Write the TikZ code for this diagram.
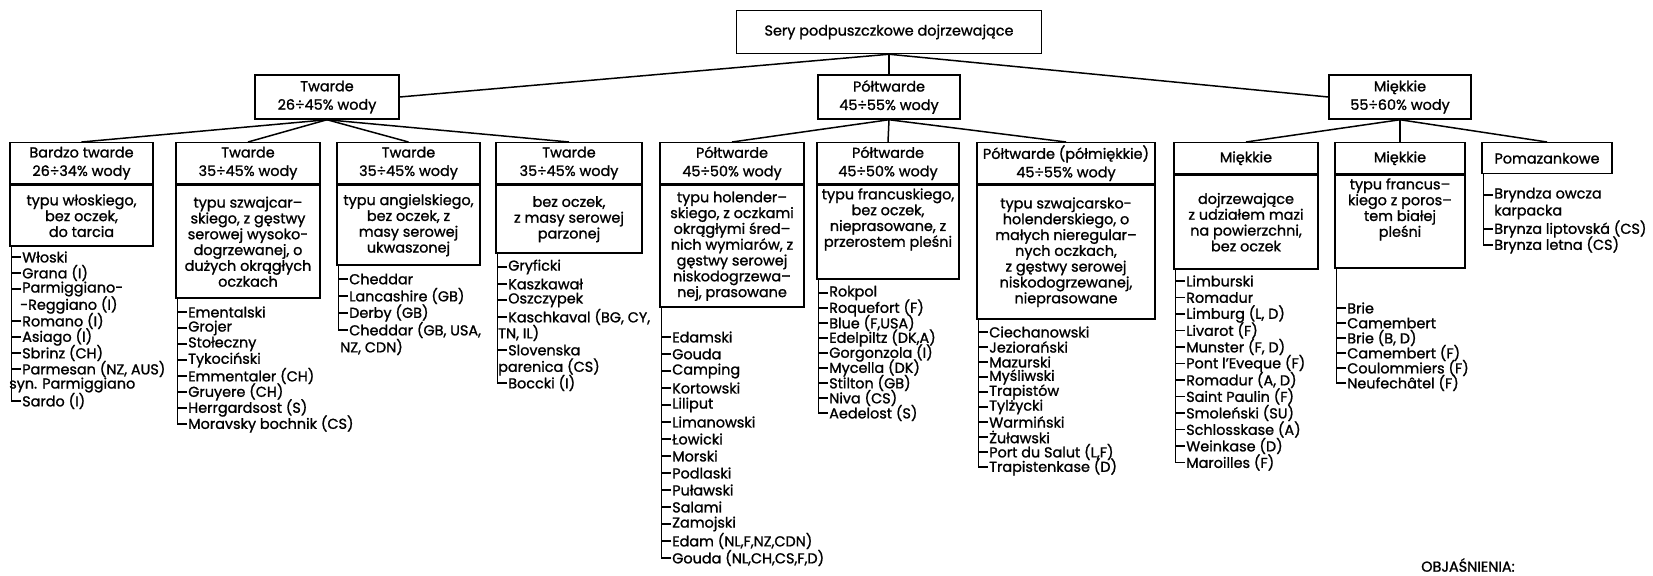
\documentclass[tikz,border=0pt]{standalone}
\usepackage{fontspec}
\setmainfont{Poppins}[FakeBold=1.2]
\usetikzlibrary{positioning, calc}

\tikzset{
  hbox/.style={draw, line width=0.85pt, align=center, inner sep=1pt, font=\fontsize{8.2}{10.5}\selectfont},
  bbox/.style={draw, line width=0.85pt, align=center, inner sep=1pt, font=\fontsize{8.2}{9}\selectfont},
  btxt/.style={align=center, inner sep=2pt, font=\fontsize{8.2}{9}\selectfont},
  conn/.style={line width=0.85pt},
  lst/.style={anchor=west, inner sep=0.5pt, font=\fontsize{8.2}{9}\selectfont},
  rail/.style={line width=0.65pt},
}

\begin{document}
\begin{tikzpicture}[x=0.02cm, y=-0.02cm]
\useasboundingbox[fill=white] (0,0) rectangle (1653,575);

% korzen i trzy grupy
\node[hbox, minimum width=6.1cm, minimum height=0.86cm] (root) at (889,32) {Sery podpuszczkowe dojrzewające};
\node[hbox, minimum width=2.88cm, minimum height=0.88cm] (tw) at (327,97) {Twarde\\26÷45\% wody};
\node[hbox, minimum width=2.84cm, minimum height=0.88cm] (pt) at (889,97) {Półtwarde\\45÷55\% wody};
\node[hbox, minimum width=2.84cm, minimum height=0.88cm] (mk) at (1400,97) {Miękkie\\55÷60\% wody};

\draw[conn] (root.south) -- (tw.east);
\draw[conn] (root.south) -- (pt.north);
\draw[conn] (root.south) -- (mk.west);

% naglowki grup szczegolowych
\node[hbox, anchor=north, minimum width=2.86cm, minimum height=0.82cm] (t1) at (81.5,142) {Bardzo twarde\\26÷34\% wody};
\node[hbox, anchor=north, minimum width=2.88cm, minimum height=0.82cm] (t2) at (248,142) {Twarde\\35÷45\% wody};
\node[hbox, anchor=north, minimum width=2.86cm, minimum height=0.82cm] (t3) at (408.5,142) {Twarde\\35÷45\% wody};
\node[hbox, anchor=north, minimum width=2.92cm, minimum height=0.82cm] (t4) at (569,142) {Twarde\\35÷45\% wody};
\node[hbox, anchor=north, minimum width=2.88cm, minimum height=0.82cm] (t5) at (732,142) {Półtwarde\\45÷50\% wody};
\node[hbox, anchor=north, minimum width=2.84cm, minimum height=0.82cm] (t6) at (888,142) {Półtwarde\\45÷50\% wody};
\node[hbox, anchor=north, minimum width=3.56cm, minimum height=0.82cm] (t7) at (1066,142) {Półtwarde (półmiękkie)\\45÷55\% wody};
\node[hbox, anchor=north, minimum width=2.88cm, minimum height=0.62cm] (t8) at (1246,142) {Miękkie};
\node[hbox, anchor=north, minimum width=2.6cm, minimum height=0.62cm] (t9) at (1400,142) {Miękkie};
\node[hbox, anchor=north, minimum width=2.6cm, minimum height=0.62cm] (t10) at (1547,142) {Pomazankowe};

\foreach \c in {t1,t2,t3,t4} \draw[conn] (tw.south) -- (\c.north);
\foreach \c in {t5,t6,t7} \draw[conn] (pt.south) -- (\c.north);
\foreach \c in {t8,t9,t10} \draw[conn] (mk.south) -- (\c.north);

% opisy
\node[bbox, below=0pt of t1, minimum width=2.86cm, minimum height=1.22cm] (b1) {typu włoskiego,\\bez oczek,\\do tarcia};
\node[bbox, below=0pt of t2, minimum width=2.88cm, minimum height=2.26cm] (b2) {typu szwajcar--\\skiego, z gęstwy\\serowej wysoko-\\dogrzewanej, o\\dużych okrągłych\\oczkach};
\node[bbox, below=0pt of t3, minimum width=2.86cm, minimum height=1.6cm] (b3) {typu angielskiego,\\bez oczek, z\\masy serowej\\ukwaszonej};
\node[bbox, below=0pt of t4, minimum width=2.92cm, minimum height=1.36cm] (b4) {bez oczek,\\z masy serowej\\parzonej};
\node[bbox, below=0pt of t5, minimum width=2.88cm, minimum height=2.44cm] (b5) {typu holender--\\skiego, z oczkami\\okrągłymi śred--\\nich wymiarów, z\\gęstwy serowej\\niskodogrzewa--\\nej, prasowane};
\node[bbox, below=0pt of t6, minimum width=2.84cm, minimum height=1.88cm] (b6) {};
\node[btxt, anchor=north] (b6t) at (b6.north) {typu francuskiego,\\bez oczek,\\nieprasowane, z\\przerostem pleśni};
\node[bbox, below=0pt of t7, minimum width=3.56cm, minimum height=2.68cm] (b7) {typu szwajcarsko-\\holenderskiego, o\\małych nieregular--\\nych oczkach,\\z gęstwy serowej\\niskodogrzewanej,\\nieprasowane};
\node[bbox, below=0pt of t8, minimum width=2.88cm, minimum height=1.88cm] (b8) {dojrzewające\\z udziałem mazi\\na powierzchni,\\bez oczek};
\node[bbox, below=0pt of t9, minimum width=2.6cm, minimum height=1.86cm] (b9) {};
\node[btxt, anchor=north] (b9t) at (b9.north) {typu francus--\\kiego z poros--\\tem białej\\pleśni};

% listy gatunkow
\coordinate (l1) at ([xshift=0.04cm]b1.south west);
\foreach \y/\t [count=\k] in {257/Włoski, 273/Grana (I), 289/Parmiggiano-, 321/Romano (I), 337/Asiago (I), 353/Sbrinz (CH), {369/Parmesan (NZ, AUS)}, 401/Sardo (I)} {
  \node[lst] (c1-\k) at (21,\y) {\t};
  \draw[rail] (c1-\k.west) -- (c1-\k.west -| l1);
}
\node[lst] (c1-r) at (19,305) {-Reggiano (I)};
\node[lst] (c1-s) at (8,385) {syn. Parmiggiano};
\draw[rail] (l1) |- (c1-8.west);

\coordinate (l2) at ([xshift=0.04cm]b2.south west);
\foreach \y/\t [count=\k] in {312/Ementalski, 328/Grojer, 344/Stołeczny, 360/Tykociński, 376/Emmentaler (CH), 392/Gruyere (CH), 408/Herrgardsost (S), 424/Moravsky bochnik (CS)} {
  \node[lst] (c2-\k) at (187,\y) {\t};
  \draw[rail] (c2-\k.west) -- (c2-\k.west -| l2);
}
\draw[rail] (l2) |- (c2-8.west);

\coordinate (l3) at ([xshift=0.04cm]b3.south west);
\foreach \y/\t [count=\k] in {279/Cheddar, 296/Lancashire (GB), 313/Derby (GB), {330/Cheddar (GB, USA,}} {
  \node[lst] (c3-\k) at (348,\y) {\t};
  \draw[rail] (c3-\k.west) -- (c3-\k.west -| l3);
}
\node[lst] (c3-n) at (339,347) {NZ, CDN)};
\draw[rail] (l3) |- (c3-4.west);

\coordinate (l4) at ([xshift=0.04cm]b4.south west);
\foreach \y/\t [count=\k] in {267/Gryficki, 284/Kaszkawał, 300/Oszczypek, {317/Kaschkaval (BG, CY,}, 350/Slovenska, 383/Boccki (I)} {
  \node[lst] (c4-\k) at (507,\y) {\t};
  \draw[rail] (c4-\k.west) -- (c4-\k.west -| l4);
}
\node[lst] (c4-a) at (497,333) {TN, IL)};
\node[lst] (c4-b) at (497,367) {parenica (CS)};
\draw[rail] (l4) |- (c4-6.west);

\coordinate (l5) at ([xshift=0.04cm]b5.south west);
\foreach \y/\t [count=\k] in {337/Edamski, 354/Gouda, 371/Camping, 388/Kortowski, 405/Liliput, 422/Limanowski, 439/Łowicki, 456/Morski, 473/Podlaski, 490/Puławski, 507/Salami, 524/Zamojski, {541/Edam (NL,F,NZ,CDN)}, {558/Gouda (NL,CH,CS,F,D)}} {
  \node[lst] (c5-\k) at (671,\y) {\t};
  \draw[rail] (c5-\k.west) -- (c5-\k.west -| l5);
}
\draw[rail] (l5) |- (c5-14.west);

\coordinate (l6) at ([xshift=0.04cm]b6.south west);
\foreach \y/\t [count=\k] in {293/Rokpol, 308/Roquefort (F), {323/Blue (F,USA)}, {338/Edelpiltz (DK,A)}, 353/Gorgonzola (I), 368/Mycella (DK), 383/Stilton (GB), 398/Niva (CS), 413/Aedelost (S)} {
  \node[lst] (c6-\k) at (828,\y) {\t};
  \draw[rail] (c6-\k.west) -- (c6-\k.west -| l6);
}
\draw[rail] (l6) |- (c6-9.west);

\coordinate (l7) at ([xshift=0.04cm]b7.south west);
\foreach \y/\t [count=\k] in {332/Ciechanowski, 347/Jeziorański, 362/Mazurski, 377/Myśliwski, 392/Trapistów, 407/Tylżycki, 422/Warmiński, 437/Żuławski, {452/Port du Salut (L,F)}, 467/Trapistenkase (D)} {
  \node[lst] (c7-\k) at (988,\y) {\t};
  \draw[rail] (c7-\k.west) -- (c7-\k.west -| l7);
}
\draw[rail] (l7) |- (c7-10.west);

\coordinate (l8) at ([xshift=0.04cm]b8.south west);
\foreach \y/\t [count=\k] in {281/Limburski, 297.5/Romadur, {314/Limburg (L, D)}, 330.5/Livarot (F), {347/Munster (F, D)}, 363.5/Pont l'Eveque (F), {380/Romadur (A, D)}, 396.5/Saint Paulin (F), 413/Smoleński (SU), 429.5/Schlosskase (A), 446/Weinkase (D), 462.5/Maroilles (F)} {
  \node[lst] (c8-\k) at (1185,\y) {\t};
  \draw[rail] (c8-\k.west) -- (c8-\k.west -| l8);
}
\draw[rail] (l8) |- (c8-12.west);

\coordinate (l9) at ([xshift=0.04cm]b9.south west);
\foreach \y/\t [count=\k] in {308/Brie, 323/Camembert, {338/Brie (B, D)}, 353/Camembert (F), 368/Coulommiers (F), 383/Neufechâtel (F)} {
  \node[lst] (c9-\k) at (1346,\y) {\t};
  \draw[rail] (c9-\k.west) -- (c9-\k.west -| l9);
}
\draw[rail] (l9) |- (c9-6.west);

\coordinate (l10) at ([xshift=0.04cm]t10.south west);
\foreach \y/\t [count=\k] in {195/Bryndza owcza, 229/Brynza liptovská (CS), 245/Brynza letna (CS)} {
  \node[lst] (c10-\k) at (1493,\y) {\t};
  \draw[rail] (c10-\k.west) -- (c10-\k.west -| l10);
}
\node[lst] (c10-a) at (1493,212) {karpacka};
\draw[rail] (l10) |- (c10-3.west);

\node[lst] (objas) at (1420,565) {OBJAŚNIENIA:};
\end{tikzpicture}
\end{document}
